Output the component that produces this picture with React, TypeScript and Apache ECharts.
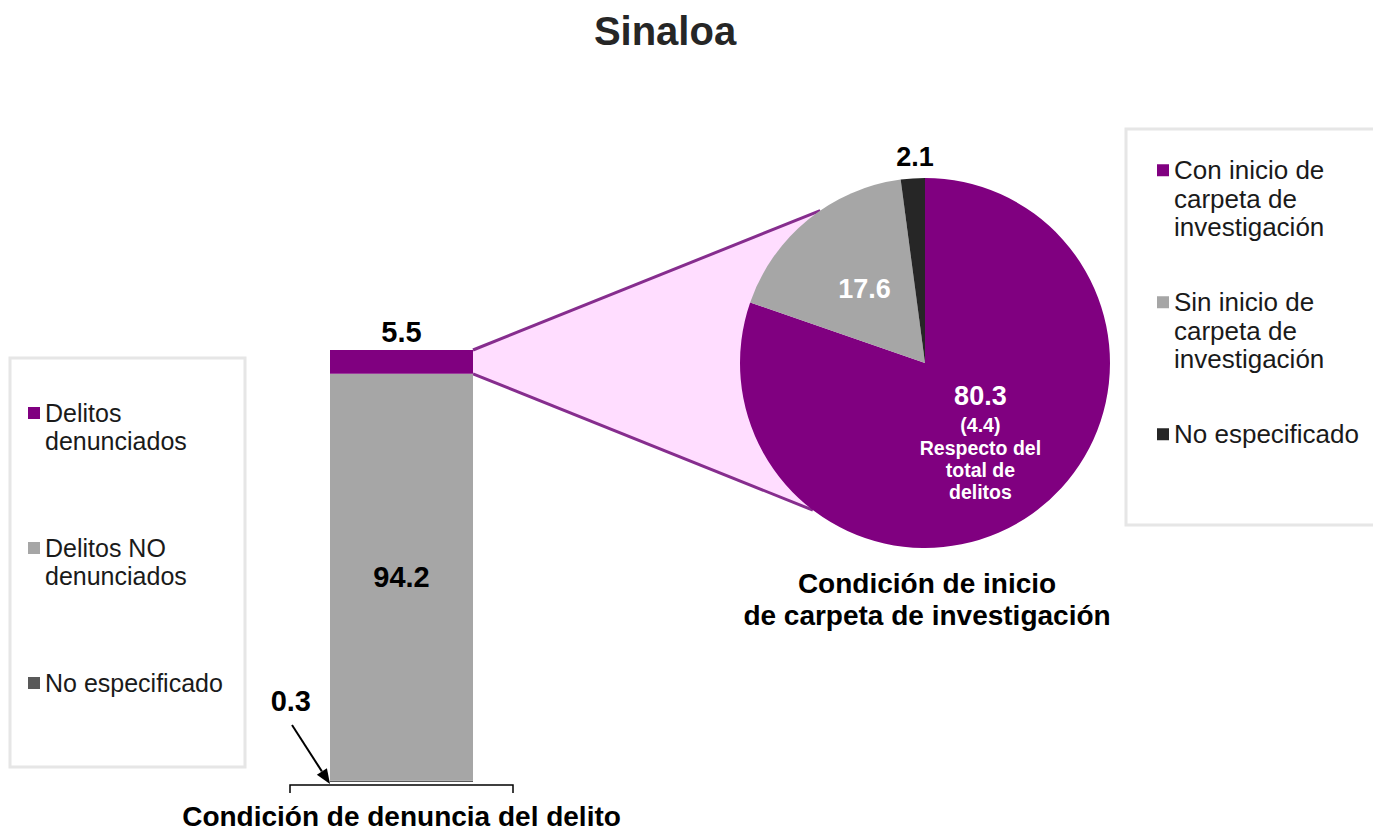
import React, { useEffect, useRef } from "react";
import * as echarts from "echarts";

// ---------- data ----------
const chartTitle = "Sinaloa";
const barCategory = ["Condición de denuncia del delito"];
const barSeriesNames = ["Delitos denunciados", "Delitos NO denunciados", "No especificado"];
const barValues = [5.5, 94.2, 0.3];
const barColors = ["#800080", "#A6A6A6", "#595959"];
const barLegendLines = [["Delitos", "denunciados"], ["Delitos NO", "denunciados"], ["No especificado"]];

const pieTitle = "Condición de inicio\nde carpeta de investigación";
const pieNames = [
  "Con inicio de carpeta de investigación",
  "Sin inicio de carpeta de investigación",
  "No especificado ",
];
const pieValues = [80.3, 17.6, 2.1];
const pieColors = ["#800080", "#A6A6A6", "#262626"];
const pieLegendLines = [["Con inicio de", "carpeta de", "investigación"], ["Sin inicio de", "carpeta de", "investigación"], ["No especificado"]];
const conInicioRespectoTotal = 4.4;
const respectoText = ["Respecto del", "total de", "delitos"];

// ---------- layout ----------
const W = 1373;
const H = 830;
const FONT = "'Liberation Sans', Arial, Helvetica, sans-serif";
const GRID = { left: 330, top: 350, width: 143, height: 434 };
const PIE = { cx: 925, cy: 363, r: 185 };
const CONE_ANGLES = [124.5, 232.7]; // degrees (math convention) where the cone meets the pie

function padLines(lines: string[], maxLines: number) {
  const pre = Array(maxLines - 1).fill(" ");
  const post = Array(maxLines - lines.length).fill(" ");
  return [...pre, ...lines, ...post].join("\n");
}

export default function App() {
  const ref = useRef<HTMLDivElement>(null);

  useEffect(() => {
    document.body.style.margin = "0";
    const chart = echarts.init(ref.current!, undefined, { renderer: "svg" });

    const barRight = GRID.left + GRID.width;
    const barTop = GRID.top;
    const barBottom = GRID.top + GRID.height;
    const purpleBottom = GRID.top + (GRID.height * barValues[0]) / 100;
    const pt = (deg: number, r: number) => [
      PIE.cx + r * Math.cos((deg * Math.PI) / 180),
      PIE.cy - r * Math.sin((deg * Math.PI) / 180),
    ];
    const up = pt(CONE_ANGLES[0], PIE.r);
    const lo = pt(CONE_ANGLES[1], PIE.r);

    // arrow from "0.3" label to the bar base
    const aStart = [292, 725];
    const aEnd = [GRID.left, barBottom];
    const vx = aEnd[0] - aStart[0];
    const vy = aEnd[1] - aStart[1];
    const len = Math.hypot(vx, vy);
    const ux = vx / len;
    const uy = vy / len;
    const headL = 15;
    const headW = 6;
    const hb = [aEnd[0] - ux * headL, aEnd[1] - uy * headL];
    const head = [
      aEnd,
      [hb[0] - uy * headW, hb[1] + ux * headW],
      [hb[0] + uy * headW, hb[1] - ux * headW],
    ];

    const barLabelBase = { fontFamily: FONT, fontWeight: "bold", fontSize: 29, color: "#000" };
    const barLabels: any[] = [
      { show: true, position: "top", distance: 4, ...barLabelBase },
      { show: true, position: "inside", ...barLabelBase },
      { show: true, position: "left", distance: 19, offset: [0, -80], ...barLabelBase },
    ];
    const stackOrder = [2, 1, 0];

    const whiteBold = { color: "#fff", fontWeight: "bold", fontFamily: FONT };
    const pieLabels: any[] = [
      {
        show: true,
        position: "inside",
        formatter: (p: any) =>
          `{a|${p.value}}\n{b|(${conInicioRespectoTotal})}\n` + respectoText.map((t) => `{c|${t}}`).join("\n"),
        rich: {
          a: { ...whiteBold, fontSize: 27, lineHeight: 34 },
          b: { ...whiteBold, fontSize: 19.5, lineHeight: 24 },
          c: { ...whiteBold, fontSize: 19.5, lineHeight: 22 },
        },
      },
      { show: true, position: "inside", formatter: "{c}", ...whiteBold, fontSize: 27 },
      {
        show: true,
        position: "outside",
        formatter: "{c}",
        fontFamily: FONT,
        fontWeight: "bold",
        fontSize: 27,
        color: "#000",
      },
    ];

    const option: any = {
      animation: false,
      backgroundColor: "#fff",
      title: [
        {
          text: chartTitle,
          left: 660,
          textAlign: "center",
          top: 6,
          textStyle: { fontFamily: FONT, fontSize: 40, fontWeight: "bold", color: "#262626" },
        },
        {
          text: pieTitle,
          left: PIE.cx - 3,
          textAlign: "center",
          top: 562,
          textStyle: { fontFamily: FONT, fontSize: 28, fontWeight: "bold", color: "#000", lineHeight: 32 },
        },
      ],
      legend: [
        {
          orient: "vertical",
          left: 23,
          top: 366,
          itemWidth: 12,
          itemHeight: 12,
          itemGap: 51,
          icon: "rect",
          selectedMode: false,
          data: barSeriesNames.map((n, i) => ({ name: n, itemStyle: { color: barColors[i] } })),
          formatter: (name: string) => padLines(barLegendLines[barSeriesNames.indexOf(name)], 2),
          textStyle: { fontFamily: FONT, fontSize: 25, lineHeight: 28, color: "#1a1a1a" },
        },
        {
          orient: "vertical",
          left: 1152,
          top: 94,
          itemWidth: 12,
          itemHeight: 12,
          itemGap: -10.5,
          icon: "rect",
          selectedMode: false,
          data: pieNames.map((n, i) => ({ name: n, itemStyle: { color: pieColors[i] } })),
          formatter: (name: string) => padLines(pieLegendLines[pieNames.indexOf(name)], 3),
          textStyle: { fontFamily: FONT, fontSize: 26, lineHeight: 28.5, color: "#1a1a1a" },
        },
      ],
      grid: {
        left: GRID.left,
        top: GRID.top,
        width: GRID.width,
        height: GRID.height,
        containLabel: false,
      },
      xAxis: {
        type: "category",
        data: barCategory,
        axisLine: { show: false },
        axisTick: { show: false },
        axisLabel: { margin: 20, fontFamily: FONT, fontSize: 28, fontWeight: "bold", color: "#000" },
      },
      yAxis: { type: "value", min: 0, max: 100, show: false },
      graphic: [
        {
          type: "rect",
          z: 0,
          shape: { x: 10, y: 358, width: 235, height: 409 },
          style: { fill: "#fff", stroke: "#E6E6E6", lineWidth: 3 },
        },
        {
          type: "rect",
          z: 0,
          shape: { x: 1126, y: 129, width: 270, height: 396 },
          style: { fill: "#fff", stroke: "#E6E6E6", lineWidth: 3 },
        },
        {
          type: "polygon",
          z: 1,
          shape: {
            points: [[barRight, barTop], up, [PIE.cx, PIE.cy], lo, [barRight, purpleBottom]],
          },
          style: { fill: "#FFDDFF" },
        },
        {
          type: "line",
          z: 1,
          shape: { x1: barRight, y1: barTop, x2: up[0], y2: up[1] },
          style: { stroke: "#862D8E", lineWidth: 3 },
        },
        {
          type: "line",
          z: 1,
          shape: { x1: barRight, y1: purpleBottom, x2: lo[0], y2: lo[1] },
          style: { stroke: "#862D8E", lineWidth: 3 },
        },
        {
          type: "polyline",
          z: 5,
          shape: { points: [[290, barBottom + 9], [290, barBottom + 1], [513, barBottom + 1], [513, barBottom + 9]] },
          style: { stroke: "#000", lineWidth: 1.5, fill: null },
        },
        {
          type: "line",
          z: 5,
          shape: { x1: aStart[0], y1: aStart[1], x2: hb[0], y2: hb[1] },
          style: { stroke: "#000", lineWidth: 2 },
        },
        {
          type: "polygon",
          z: 5,
          shape: { points: head },
          style: { fill: "#000" },
        },
      ],
      series: [
        ...stackOrder.map((i) => ({
          type: "bar",
          name: barSeriesNames[i],
          stack: "total",
          data: [barValues[i]],
          barWidth: "100%",
          itemStyle: { color: barColors[i] },
          label: barLabels[i],
          emphasis: { disabled: true },
          z: 3,
        })),
        {
          type: "pie",
          z: 3,
          center: [PIE.cx, PIE.cy],
          radius: PIE.r,
          startAngle: 90,
          clockwise: true,
          avoidLabelOverlap: false,
          emphasis: { disabled: true },
          labelLine: { show: false, length: 0, length2: 0 },
          labelLayout: (params: any) => (params.dataIndex === 2 ? { dx: 26, dy: -21 } : {}),
          data: pieValues.map((v, i) => ({
            value: v,
            name: pieNames[i],
            itemStyle: { color: pieColors[i], borderWidth: 0 },
            label: pieLabels[i],
          })),
        },
      ],
    };

    chart.setOption(option);
    return () => chart.dispose();
  }, []);

  return <div ref={ref} style={{ width: W, height: H }} />;
}
